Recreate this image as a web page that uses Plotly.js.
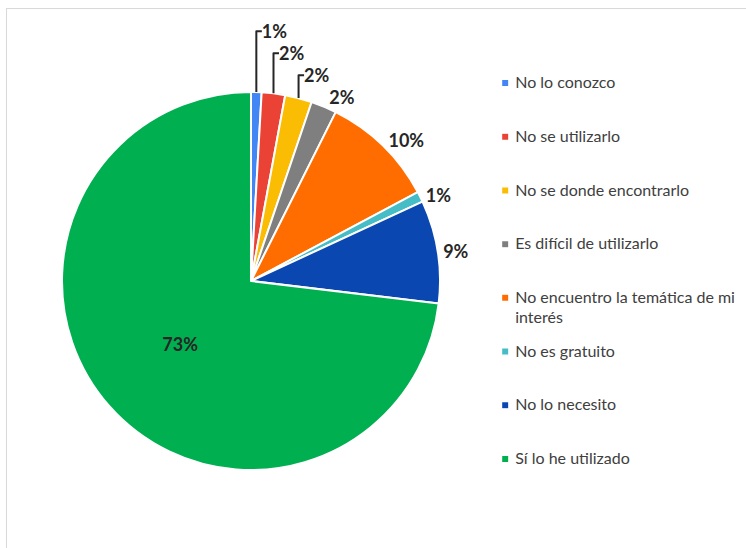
<!DOCTYPE html>
<html>
<head>
<meta charset="utf-8">
<script src="https://cdn.plot.ly/plotly-3.0.1.min.js"></script>
<style>
  html, body { margin: 0; padding: 0; background: #fff; width: 746px; height: 548px; overflow: hidden; }
  #frame { position: absolute; left: 6px; top: 8px; width: 760px; height: 560px;
           border-left: 1.5px solid #d9d9d9; border-top: 1.5px solid #d9d9d9; }
  #chart { position: absolute; left: 0; top: 0; width: 746px; height: 548px; }
</style>
</head>
<body>
<div id="frame"></div>
<div id="chart"></div>
<script>
// Categories (clockwise from 12 o'clock)
const categories = [
  "No lo conozco",
  "No se utilizarlo",
  "No se donde encontrarlo",
  "Es difícil de utilizarlo",
  "No encuentro la temática de mi interés",
  "No es gratuito",
  "No lo necesito",
  "Sí lo he utilizado"
];
// Shares in percent
const shares = [0.9, 2.0, 2.3, 2.2, 9.8, 0.9, 8.8, 73.1];
const sliceColors = ["#4285f4", "#ea4335", "#fbbc04", "#7f7f7f", "#ff6d01", "#46bdc6", "#0b47b0", "#00b050"];

const FONT = "Lato, 'DejaVu Sans', sans-serif";

// Legend text: wrap long names, pad each entry to three lines
function legendName(name) {
  const lines = [];
  const words = name.split(" ");
  let cur = "";
  words.forEach(w => {
    const t = cur ? cur + " " + w : w;
    if (t.length > 30 && cur) { lines.push(cur); cur = w; } else { cur = t; }
  });
  lines.push(cur);
  while (lines.length < 3) lines.push(" ");
  return lines.map(l => "<span style='font-size:16px'>" + l + "</span>").join("<br>");
}

const trace = {
  type: "pie",
  labels: categories.map(legendName),
  values: shares,
  sort: false,
  direction: "clockwise",
  rotation: 0,
  marker: { colors: sliceColors, line: { color: "#ffffff", width: 2 } },
  texttemplate: "%{percent:.0%}",
  textposition: shares.map(v => v > 50 ? "inside" : "outside"),
  insidetextorientation: "horizontal",
  textfont: { family: FONT, size: 18, color: "#262626", weight: "bold" },
  outsidetextfont: { family: FONT, size: 18, color: "#262626", weight: "bold" },
  insidetextfont: { family: FONT, size: 18, color: "#262626", weight: "bold" },
  hoverinfo: "percent",
  domain: { x: [0.0831, 0.5898], y: [0.1423, 0.8321] }
};

const layout = {
  width: 746, height: 548,
  margin: { l: 0, r: 0, t: 0, b: 0 },
  paper_bgcolor: "rgba(0,0,0,0)",
  plot_bgcolor: "rgba(0,0,0,0)",
  showlegend: true,
  legend: {
    x: 0.637, y: 0.8757, xanchor: "left", yanchor: "top",
    font: { family: FONT, size: 13, color: "#404040" },
    valign: "top",
    itemwidth: 30,
    traceorder: "normal"
  }
};

Plotly.newPlot("chart", [trace], layout, { displayModeBar: false, staticPlot: true }).then(() => {
  document.querySelectorAll("#chart .legendpoints path").forEach(p => {
    p.setAttribute("transform", "translate(30,0) scale(0.6)");
  });
  // wrapped legend lines: 20px line spacing, as in the reference
  document.querySelectorAll("#chart .legendtext").forEach(t => {
    t.querySelectorAll("tspan.line").forEach((ln, i) => {
      ln.setAttribute("dy", (i * 20) + "px");
    });
  });
});
</script>
</body>
</html>
